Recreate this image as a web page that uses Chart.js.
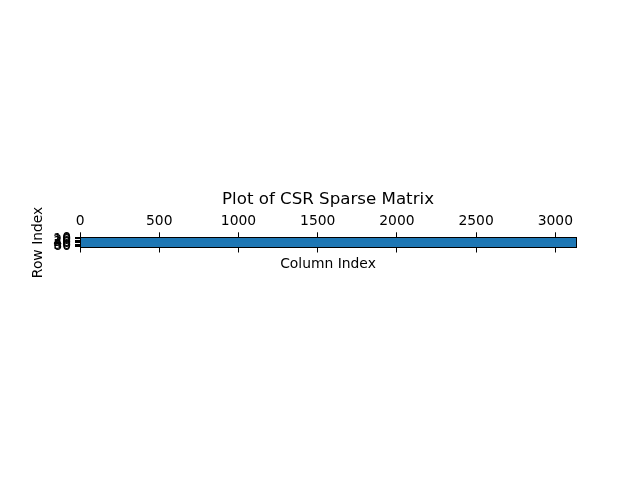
<!DOCTYPE html>
<html>
<head>
<meta charset="utf-8">
<script src="https://cdn.jsdelivr.net/npm/chart.js@4"></script>
<style>
  html, body { margin: 0; padding: 0; background: #ffffff; }
  #wrap { width: 640px; height: 480px; }
</style>
</head>
<body>
<div id="wrap"><canvas id="c" width="640" height="480"></canvas></div>
<script>
// ---- data ----
const nRows = 64;
const nCols = 3131;
const rowIndex = [0,1,2,3,4,5,6,7,8,9,10,11,12,13,14,15,16,17,18,19,20,21,22,23,24,25,26,27,28,29,30,31,
                  32,33,34,35,36,37,38,39,40,41,42,43,44,45,46,47,48,49,50,51,52,53,54,55,56,57,58,59,60,61,62,63];
const firstNonzeroCol = 0;
const lastNonzeroCol = 3130;
const xTickValues = [0, 500, 1000, 1500, 2000, 2500, 3000];
const yTickValues = [0, 10, 20, 30, 40, 50, 60];
const titleText = 'Plot of CSR Sparse Matrix';
const xLabel = 'Column Index';
const yLabel = 'Row Index';

// ---- style ----
const FONT = 'DejaVu Sans';
const BLUE = '#1f77b4';
const tickFont = { family: FONT, size: 13.89 };

const rowBars = rowIndex.map(r => ({ y: r, x: [firstNonzeroCol, lastNonzeroCol] }));

function setTicks(values) {
  return scale => { scale.ticks = values.map(v => ({ value: v })); };
}

new Chart(document.getElementById('c'), {
  type: 'bar',
  data: {
    datasets: [{
      data: rowBars,
      xAxisID: 'x',
      yAxisID: 'y',
      backgroundColor: BLUE,
      borderWidth: 0,
      barThickness: 8,
      clip: 0
    }]
  },
  options: {
    indexAxis: 'y',
    responsive: false,
    animation: false,
    layout: { padding: 0 },
    plugins: {
      legend: { display: false },
      tooltip: { enabled: false },
      title: {
        display: true,
        text: titleText,
        fullSize: false,
        color: '#000',
        font: { family: FONT, size: 16.67, weight: 'normal' },
        padding: { top: 190, bottom: 0 }
      }
    },
    scales: {
      x: {
        type: 'linear',
        position: 'top',
        min: -0.5,
        max: nCols - 0.5,
        afterBuildTicks: setTicks(xTickValues),
        afterFit: s => { s.height = 27.3; },
        ticks: { color: '#000', font: tickFont, padding: 3, autoSkip: false, maxRotation: 0,
                 callback: v => String(v) },
        grid: { drawOnChartArea: false, drawTicks: true, tickLength: 5, color: '#000', lineWidth: 1 },
        border: { display: true, color: '#000', width: 1, z: 1 }
      },
      x2: {
        type: 'linear',
        position: 'bottom',
        min: -0.5,
        max: nCols - 0.5,
        afterBuildTicks: setTicks(xTickValues),
        afterFit: s => { s.height = 232.5; },
        ticks: { color: '#000', font: tickFont, autoSkip: false, maxRotation: 0, callback: () => '' },
        grid: { drawOnChartArea: false, drawTicks: true, tickLength: 5, color: '#000', lineWidth: 1 },
        border: { display: true, color: '#000', width: 1, z: 1 },
        title: { display: true, text: xLabel, color: '#000', font: tickFont, padding: { top: 0, bottom: 207.5 } }
      },
      y: {
        type: 'linear',
        position: 'left',
        reverse: true,
        min: -0.5,
        max: nRows - 0.5,
        afterBuildTicks: setTicks(yTickValues),
        afterFit: s => { s.width = 80; },
        ticks: { color: '#000', font: tickFont, padding: 4, autoSkip: false, callback: v => String(v) },
        grid: { drawOnChartArea: false, drawTicks: true, tickLength: 5, color: '#000', lineWidth: 1 },
        border: { display: true, color: '#000', width: 1, z: 1 },
        title: { display: true, text: yLabel, color: '#000', font: tickFont, padding: { top: 30, bottom: 0 } }
      },
      yr: {
        type: 'linear',
        position: 'right',
        min: -0.5,
        max: nRows - 0.5,
        afterFit: s => { s.width = 64; },
        ticks: { display: false },
        grid: { display: false },
        border: { display: true, color: '#000', width: 1, z: 1 }
      }
    }
  }
});
</script>
</body>
</html>
